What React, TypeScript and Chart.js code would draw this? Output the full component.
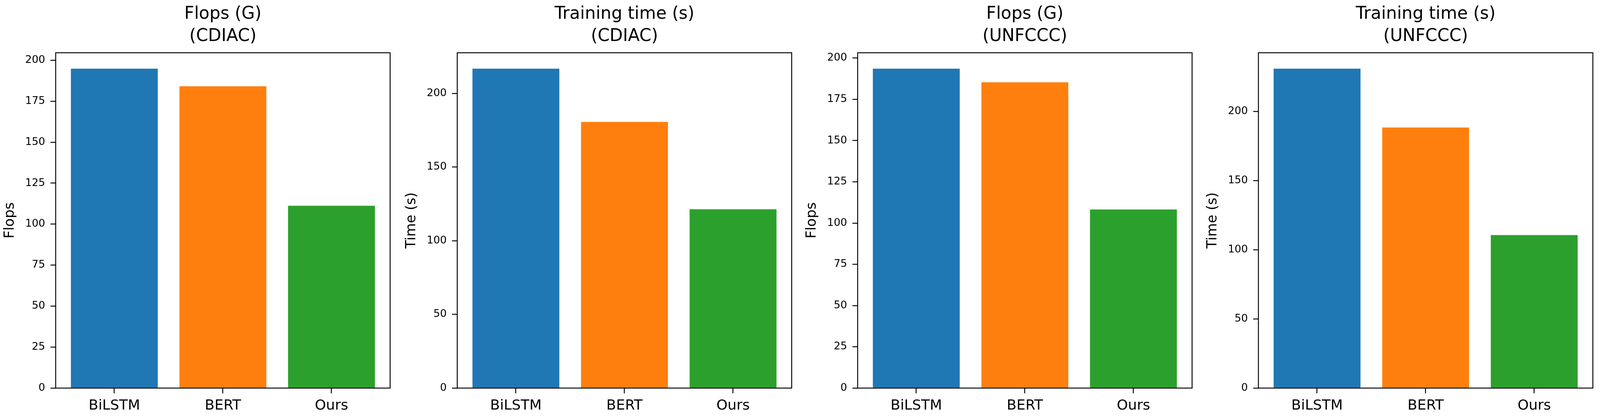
import React, { useRef, useEffect } from "react";
import Chart from "chart.js/auto";

const categories = ["BiLSTM", "BERT", "Ours"];
const barColors = ["#1f77b4", "#ff7f0e", "#2ca02c"];

// values
const flopsCdiac = [194.8, 184.1, 111.2];
const timeCdiac = [216.7, 180.6, 121.3];
const flopsUnfccc = [193.5, 185.3, 108.2];
const timeUnfccc = [230.8, 188.3, 110.6];

const panelTitles = [
  ["Flops (G)", "(CDIAC)"],
  ["Training time (s)", "(CDIAC)"],
  ["Flops (G)", "(UNFCCC)"],
  ["Training time (s)", "(UNFCCC)"],
];
const yLabels = ["Flops", "Time (s)", "Flops", "Time (s)"];
const yStepSizes = [25, 50, 25, 50];
const panelValues = [flopsCdiac, timeCdiac, flopsUnfccc, timeUnfccc];

// figure layout, in reference pixels (4482 x 1067)
const FIG_W = 4482;
const FIG_H = 1067;
const axesLefts = [156, 1281, 2403, 3525];
const AXIS_W = 156; // room for y ticks + y label
const PLOT_W = 937;
const RIGHT_PAD = 20;
const X_AXIS_H = 74;
const FONT = "DejaVu Sans";

type Scale = { sx: number; sy: number; fs: number };

function makeFramePlugin(lw: number) {
  return {
    id: "frame",
    afterDatasetsDraw(chart: Chart) {
      const { ctx, chartArea: a } = chart;
      ctx.save();
      ctx.strokeStyle = "#000";
      ctx.lineWidth = lw;
      ctx.strokeRect(a.left, a.top, a.right - a.left, a.bottom - a.top);
      ctx.restore();
    },
  };
}

function BarPanel({ title, yLabel, values, step, left, s }: {
  title: string[];
  yLabel: string;
  values: number[];
  step: number;
  left: number;
  s: Scale;
}) {
  const chartRef = useRef<HTMLCanvasElement | null>(null);
  const chartInstanceRef = useRef<Chart | null>(null);
  const { sx, sy, fs } = s;

  useEffect(() => {
    if (!chartRef.current) return;
    const ctx = chartRef.current.getContext("2d");
    if (!ctx) return;
    if (chartInstanceRef.current) chartInstanceRef.current.destroy();

    const yMax = Math.max(...values) * 1.05; // matplotlib-like top margin
    const lw = 2.5 * fs;
    const tickLen = 14 * fs;

    chartInstanceRef.current = new Chart(ctx, {
      type: "bar",
      data: {
        datasets: [
          {
            data: values.map((v, i) => ({ x: i, y: v })),
            backgroundColor: barColors,
            borderWidth: 0,
            barPercentage: 0.8,
            categoryPercentage: 1,
          },
        ],
      },
      options: {
        animation: false,
        responsive: false,
        devicePixelRatio: window.devicePixelRatio || 1,
        layout: { padding: { left: 0, right: RIGHT_PAD * sx, top: 0, bottom: 0 } },
        plugins: {
          legend: { display: false },
          tooltip: { enabled: false },
          title: {
            display: true,
            text: title,
            fullSize: false,
            color: "#000",
            font: {
              family: FONT,
              size: 46 * fs,
              weight: "normal",
              lineHeight: (57 * sy) / (46 * fs),
            },
            padding: { top: 8.5 * sy, bottom: 12.5 * sy },
          },
        },
        scales: {
          x: {
            type: "linear",
            min: -0.54,
            max: 2.54,
            bounds: "data",
            offset: false,
            afterBuildTicks: (scale: any) => {
              scale.ticks = categories.map((_, i) => ({ value: i }));
            },
            afterFit: (scale: any) => {
              scale.height = X_AXIS_H * sy;
            },
            ticks: {
              callback: (value: any) => categories[value as number] ?? "",
              color: "#000",
              font: { family: FONT, size: 38 * fs },
              padding: 10 * sy,
              autoSkip: false,
              maxRotation: 0,
            },
            grid: {
              drawOnChartArea: false,
              drawTicks: true,
              tickLength: tickLen,
              color: "#000",
              lineWidth: lw,
              offset: false,
            },
            border: { display: false },
          },
          y: {
            min: 0,
            max: yMax,
            bounds: "data",
            afterFit: (scale: any) => {
              scale.width = AXIS_W * sx;
            },
            ticks: {
              stepSize: step,
              includeBounds: false,
              color: "#000",
              font: { family: FONT, size: 28 * fs },
              padding: 15 * sx,
            },
            grid: {
              drawOnChartArea: false,
              drawTicks: true,
              tickLength: tickLen,
              color: "#000",
              lineWidth: lw,
            },
            border: { display: false },
            title: {
              display: true,
              text: yLabel,
              color: "#000",
              font: { family: FONT, size: 37 * fs },
              padding: { top: 5 * sx, bottom: 0 },
            },
          },
        },
      },
      plugins: [makeFramePlugin(lw)],
    });

    return () => {
      if (chartInstanceRef.current) {
        chartInstanceRef.current.destroy();
        chartInstanceRef.current = null;
      }
    };
  }, [title, yLabel, values, step, sx, sy, fs]);

  const w = Math.round((AXIS_W + PLOT_W + RIGHT_PAD) * sx);
  const h = Math.round(FIG_H * sy);
  return (
    <canvas
      ref={chartRef}
      width={w}
      height={h}
      style={{
        position: "absolute",
        top: 0,
        left: Math.round((left - AXIS_W) * sx),
        width: w,
        height: h,
      }}
    />
  );
}

export default function App() {
  // fit the figure to the visible window
  const vw = window.innerWidth || FIG_W;
  const vh = window.innerHeight || FIG_H;
  const sx = Math.min(vw / FIG_W, 1);
  const sy = Math.min(vh / FIG_H, 1);
  const s: Scale = { sx, sy, fs: Math.sqrt(sx * sy) };

  useEffect(() => {
    document.body.style.overflow = "hidden";
  }, []);

  return (
    <div
      style={{
        position: "absolute",
        top: 0,
        left: 0,
        width: Math.round(FIG_W * sx),
        height: Math.round(FIG_H * sy),
        background: "#fff",
        overflow: "hidden",
      }}
    >
      {panelValues.map((vals, i) => (
        <BarPanel
          key={i}
          title={panelTitles[i]}
          yLabel={yLabels[i]}
          values={vals}
          step={yStepSizes[i]}
          left={axesLefts[i]}
          s={s}
        />
      ))}
    </div>
  );
}
